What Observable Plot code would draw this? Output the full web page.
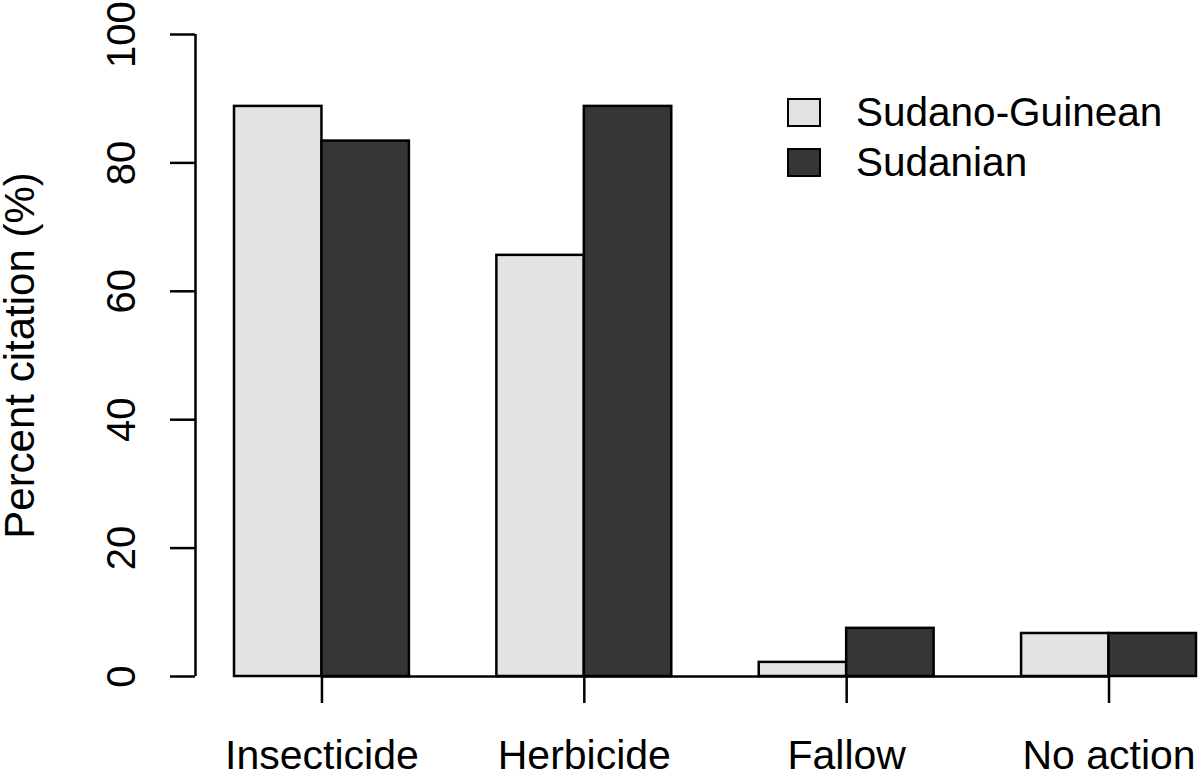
<!DOCTYPE html>
<html><head><meta charset="utf-8">
<script src="https://cdn.jsdelivr.net/npm/d3@7"></script>
<script src="https://cdn.jsdelivr.net/npm/@observablehq/plot@0.6"></script>
<style>
body{margin:0;background:#fff;}
#wrap{position:relative;width:1200px;height:773px;overflow:hidden;font-family:"Liberation Sans",Arial,sans-serif;background:#fff;}
.legend{position:absolute;left:787px;top:87px;font-size:40.5px;color:#000;line-height:46px;}
.row{display:flex;align-items:center;height:50px;}
.sw{width:30px;height:25px;border:2px solid #000;margin-right:35px;box-sizing:content-box;}
</style></head><body><div id="wrap"></div>
<script>
const categories = ["Insecticide", "Herbicide", "Fallow", "No action"];
const seriesNames = ["Sudano-Guinean", "Sudanian"];
const sudanoGuinean = [88.8, 65.6, 2.2, 6.7];
const sudanian = [83.4, 88.8, 7.5, 6.7];
const yTicks = [0, 20, 40, 60, 80, 100];
const colors = ["#e3e3e3", "#363636"];

// R barplot(beside=TRUE) layout: bar width 1, one unit gap before each group
const seriesValues = [sudanoGuinean, sudanian];
const bars = [];
categories.forEach((c, g) => {
  seriesValues.forEach((vals, s) => {
    bars.push({category: c, series: seriesNames[s], value: vals[g], x1: 1 + 3 * g + s, x2: 2 + 3 * g + s});
  });
});
const groupCenters = categories.map((c, g) => 2 + 3 * g);
const xDomain = [0.554, 12.046];

const font = '"Liberation Sans", Arial, sans-serif';
const chart = Plot.plot({
  width: 1200,
  height: 773,
  marginLeft: 195,
  marginRight: 0,
  marginTop: 34,
  marginBottom: 97,
  style: {fontFamily: font, fontSize: "40px", background: "white", overflow: "visible", color: "#000"},
  x: {type: "linear", domain: xDomain, axis: null},
  y: {domain: [0, 100], axis: null},
  color: {domain: seriesNames, range: colors},
  marks: [
    Plot.rectY(bars, {x1: "x1", x2: "x2", y1: 0, y2: "value", fill: "series", stroke: "#000", strokeWidth: 2.5}),
    Plot.ruleY([0], {x1: groupCenters[0], x2: groupCenters[groupCenters.length - 1], stroke: "#000", strokeWidth: 2.5}),
    Plot.ruleX([xDomain[0]], {y1: yTicks[0], y2: yTicks[yTicks.length - 1], stroke: "#000", strokeWidth: 2.5}),
    Plot.axisY({ticks: yTicks, tickSize: 25, tickFormat: () => "", label: null, strokeWidth: 2.5}),
    Plot.text(yTicks, {y: d => d, text: d => String(d), frameAnchor: "left", dx: -73, rotate: -90, fontSize: 40, textAnchor: "middle", lineAnchor: "middle", fill: "#000"}),
    Plot.text(["Percent citation (%)"], {y: 50, text: d => d, frameAnchor: "left", dx: -175, rotate: -90, fontSize: 42, textAnchor: "middle", lineAnchor: "middle", fill: "#000"}),
    Plot.axisX({ticks: groupCenters, tickFormat: d => categories[groupCenters.indexOf(d)], tickSize: 27, tickPadding: 36, fontSize: 41, label: null, strokeWidth: 2.5})
  ]
});
const wrap = document.getElementById("wrap");
wrap.appendChild(chart);

const legend = document.createElement("div");
legend.className = "legend";
seriesNames.forEach((name, i) => {
  const row = document.createElement("div");
  row.className = "row";
  const sw = document.createElement("div");
  sw.className = "sw";
  sw.style.background = colors[i];
  const label = document.createElement("span");
  label.textContent = name;
  row.appendChild(sw);
  row.appendChild(label);
  legend.appendChild(row);
});
wrap.appendChild(legend);
</script>
</body></html>
